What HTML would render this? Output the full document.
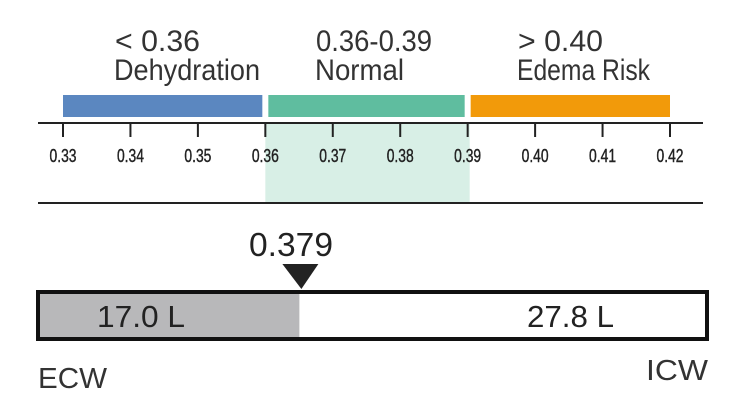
<!DOCTYPE html>
<html><head><meta charset="utf-8"><style>
html,body{margin:0;padding:0;background:#fff;width:736px;height:412px;overflow:hidden}
svg{display:block;font-family:"Liberation Sans",sans-serif}
</style></head><body>
<svg id="c" width="736" height="412" viewBox="0 0 736 412"></svg>
<script>
const ticks=[0.33,0.34,0.35,0.36,0.37,0.38,0.39,0.40,0.41,0.42];
const tickLabels=["0.33","0.34","0.35","0.36","0.37","0.38","0.39","0.40","0.41","0.42"];
const zoneStarts=[0.33,0.36,0.39];
const zoneEnds=[0.36,0.39,0.42];
const zoneLine1=["< 0.36","0.36-0.39","> 0.40"];
const zoneLine2=["Dehydration","Normal","Edema Risk"];
const zoneColors=["#5b87c0","#5fbd9f","#f29a0a"];
const ratioValue=0.379;
const ecwValue=17.0;
const icwValue=27.8;
const svg=document.getElementById('c');
const NS='http://www.w3.org/2000/svg';
function mk(t,a,p){const e=document.createElementNS(NS,t);for(const k in a)e.setAttribute(k,a[k]);(p||svg).appendChild(e);return e;}
const x=v=>63+(v-0.33)/(0.42-0.33)*(670-63);
let e=mk('rect',{x:x(0.36),y:123,width:x(0.39)-x(0.36)+2,height:80,fill:'#d8efe6'});


const l1w=[85,116,85], l2w=[146,89,133];
zoneStarts.forEach((s,i)=>{
 const x0=x(s)+(i?3:0), x1=x(zoneEnds[i])-(i<2?3:0);
 let r=mk('rect',{x:x0,y:95,width:x1-x0,height:22,fill:zoneColors[i]});
 
 
 const tx=[115,316,518][i];
 let t1=mk('text',{x:tx,y:51,'font-size':30,fill:'#333',textLength:l1w[i],lengthAdjust:'spacingAndGlyphs'});t1.textContent=zoneLine1[i];
 
 
 let t2=mk('text',{x:tx-1,y:80,'font-size':30,fill:'#333',textLength:l2w[i],lengthAdjust:'spacingAndGlyphs'});t2.textContent=zoneLine2[i];
 
 
});
e=mk('line',{x1:38,x2:703,y1:123,y2:123,stroke:'#222','stroke-width':2});


e=mk('line',{x1:38,x2:703,y1:203,y2:203,stroke:'#222','stroke-width':2});


ticks.forEach((v,i)=>{
 let l=mk('line',{x1:x(v),x2:x(v),y1:123,y2:137,stroke:'#222','stroke-width':2});
 
 
 let t=mk('text',{x:x(v),y:162,'font-size':18,'text-anchor':'middle',fill:'#222',stroke:'#222','stroke-width':0.4,textLength:27,lengthAdjust:'spacingAndGlyphs'});t.textContent=tickLabels[i];
 
 
});
const bx=36,bw=673;
const split=bx+ecwValue/(ecwValue+icwValue)*bw+8;
e=mk('rect',{x:bx+2,y:292,width:split-bx-2,height:47,fill:'#b8b8ba'});


e=mk('rect',{x:bx+2,y:292,width:bw-4,height:47,fill:'none',stroke:'#111','stroke-width':4});


e=mk('polygon',{points:`${split-17},264 ${split+19},264 ${split+2},289`,fill:'#222'});


e=mk('text',{x:249,y:256,'font-size':33,fill:'#222',textLength:84,lengthAdjust:'spacingAndGlyphs'});e.textContent=ratioValue.toFixed(3);


e=mk('text',{x:97,y:327,'font-size':31,fill:'#222',textLength:88,lengthAdjust:'spacingAndGlyphs'});e.textContent=ecwValue.toFixed(1)+' L';


e=mk('text',{x:527,y:327,'font-size':31,fill:'#222',textLength:87,lengthAdjust:'spacingAndGlyphs'});e.textContent=icwValue.toFixed(1)+' L';


e=mk('text',{x:38,y:388,'font-size':29,fill:'#333',textLength:69,lengthAdjust:'spacingAndGlyphs'});e.textContent='ECW';


e=mk('text',{x:646,y:380,'font-size':29,fill:'#333',textLength:62,lengthAdjust:'spacingAndGlyphs'});e.textContent='ICW';


</script>
</body></html>
